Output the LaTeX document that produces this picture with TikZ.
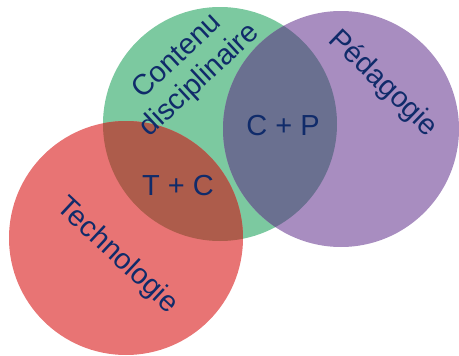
\documentclass[tikz,border=0pt]{standalone}
\usepackage{fontspec}
\setmainfont{Liberation Sans}
\usetikzlibrary{calc}

\definecolor{vert}{HTML}{7CC9A0}
\definecolor{violet}{HTML}{A88DC0}
\definecolor{rouge}{HTML}{E87474}
\definecolor{tc}{HTML}{AD5C4B}
\definecolor{cp}{HTML}{6A7090}
\definecolor{texte}{HTML}{102B6A}

\begin{document}
\begin{tikzpicture}[
      x=1pt, y=-1pt,
      every node/.style={text=texte, font=\fontsize{29}{33}\selectfont, inner sep=0pt}
    ]
    \useasboundingbox (0,0) rectangle (459,356);

    % les trois cercles
    \fill[vert] (220,124) circle (117);
    \fill[violet] (341,129) circle (118);
    \fill[rouge] (126,238) circle (117);

    % intersections
    \begin{scope}
      \clip (220,124) circle (117);
      \fill[tc] (126,238) circle (117);
      \fill[cp] (341,129) circle (118);
    \end{scope}

    % textes
    \node[rotate=43, align=center] (ncont) at (189,69) {Contenu\\disciplinaire};
    \node[rotate=-44] (nped) at (383,84) {Pédagogie};
    \node[rotate=-43] (ntech) at (117,256) {Technologie};
    \node (ncp) at (283,126) {C + P};
    \node (ntc) at (178,186) {T + C};

  \end{tikzpicture}
\end{document}
